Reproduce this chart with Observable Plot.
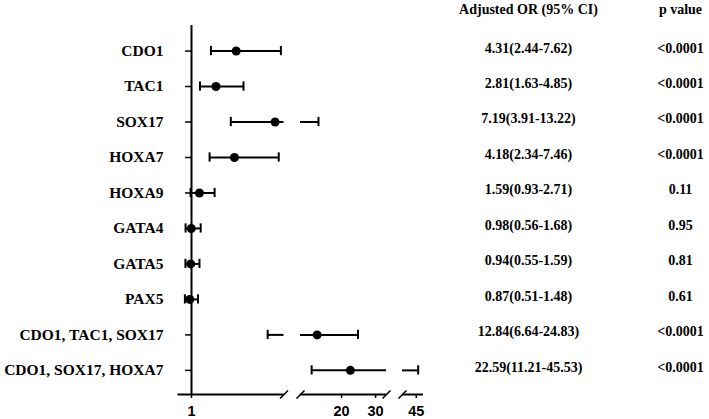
<!DOCTYPE html>
<html>
<head>
<meta charset="utf-8">
<script src="https://cdn.jsdelivr.net/npm/d3@7"></script>
<script src="https://cdn.jsdelivr.net/npm/@observablehq/plot@0.6"></script>
<style>
  html, body { margin: 0; padding: 0; background: #fff; }
  #chart svg { display: block; }
</style>
</head>
<body>
<div id="chart"></div>
<script>
// ---- data ----
const markers = ["CDO1", "TAC1", "SOX17", "HOXA7", "HOXA9", "GATA4", "GATA5", "PAX5", "CDO1, TAC1, SOX17", "CDO1, SOX17, HOXA7"];
const orValues = [4.31, 2.81, 7.19, 4.18, 1.59, 0.98, 0.94, 0.87, 12.84, 22.59];
const ciLower = [2.44, 1.63, 3.91, 2.34, 0.93, 0.56, 0.55, 0.51, 6.64, 11.21];
const ciUpper = [7.62, 4.85, 13.22, 7.46, 2.71, 1.68, 1.59, 1.48, 24.83, 45.53];
const pValues = ["<0.0001", "<0.0001", "<0.0001", "<0.0001", "0.11", "0.95", "0.81", "0.61", "<0.0001", "<0.0001"];
const xTicks = [1, 20, 30, 45];
// broken axis: visible value segments
const axisSegments = [[0, 7.85], [7.94, 33.2], [41.2, 47]];
const headers = ["Adjusted OR (95% CI)", "p value"];

// ---- derived tables ----
const rows = markers.map((m, i) => ({
  i, marker: m, or: orValues[i], lo: ciLower[i], hi: ciUpper[i], p: pValues[i],
  label: `${orValues[i].toFixed(2)}(${ciLower[i].toFixed(2)}-${ciUpper[i].toFixed(2)})`
}));
const ciSegs = [];
for (const r of rows) {
  for (const [a, b] of axisSegments) {
    const s = Math.max(r.lo, a), e = Math.min(r.hi, b);
    if (s < e) ciSegs.push({i: r.i, x1: s, x2: e});
  }
}
const breaks = [];
for (let k = 0; k < axisSegments.length - 1; k++) {
  breaks.push({x: axisSegments[k][1]}, {x: axisSegments[k + 1][0]});
}
const yBottom = 9.68;
const slash = {
  draw(context) { context.moveTo(-4, 4); context.lineTo(4, -4); }
};

const serif = "'Liberation Serif', 'Times New Roman', serif";
const sans = "'Liberation Sans', Arial, sans-serif";

const chart = Plot.plot({
  width: 709,
  height: 419,
  marginTop: 25,
  marginBottom: 25,
  marginLeft: 191,
  marginRight: 0,
  style: {background: "#fff", color: "#000"},
  x: {
    type: "linear",
    domain: [0, 7.85, 7.94, 33.2, 41.2, 47],
    range: [177.5, 283.5, 300, 386, 402, 423]
  },
  y: {domain: [-0.72, yBottom], reverse: true},
  marks: [
    // y axis line at OR = 1
    Plot.ruleX([1], {strokeWidth: 2}),
    Plot.axisY({
      ticks: d3.range(markers.length),
      tickFormat: (i) => markers[i],
      tickSize: 6,
      tickPadding: 22,
      strokeWidth: 1.5,
      fontSize: 15.5,
      fontFamily: serif,
      fontWeight: "bold",
      label: null
    }),
    // broken x axis
    Plot.ruleY(axisSegments, {y: () => yBottom, x1: (d) => d[0], x2: (d) => d[1], strokeWidth: 2}),
    Plot.dot(breaks, {x: "x", y: () => yBottom, symbol: slash, r: 4, stroke: "black", strokeWidth: 1.6, fill: "none"}),
    Plot.axisX({
      ticks: xTicks,
      tickFormat: (d) => String(d),
      tickSize: 4,
      tickPadding: 7,
      strokeWidth: 1.5,
      fontSize: 14.5,
      fontFamily: sans,
      fontWeight: "bold",
      label: null
    }),
    // confidence intervals
    Plot.ruleY(ciSegs, {y: "i", x1: "x1", x2: "x2", strokeWidth: 2}),
    Plot.ruleX(rows, {x: "lo", y1: (d) => d.i - 0.13, y2: (d) => d.i + 0.13, strokeWidth: 2}),
    Plot.ruleX(rows, {x: "hi", y1: (d) => d.i - 0.13, y2: (d) => d.i + 0.13, strokeWidth: 2}),
    Plot.dot(rows, {x: "or", y: "i", r: 4.5, fill: "black"}),
    // right-hand table
    Plot.text(rows, {y: "i", text: "label", frameAnchor: "left", dx: 337, dy: -3, fontSize: 14, fontFamily: serif, fontWeight: "bold", textAnchor: "middle"}),
    Plot.text(rows, {y: "i", text: "p", frameAnchor: "left", dx: 489, dy: -3, fontSize: 14, fontFamily: serif, fontWeight: "bold", textAnchor: "middle"}),
    Plot.text([headers[0]], {text: (d) => d, frameAnchor: "top-left", lineAnchor: "middle", dx: 337, dy: -16, fontSize: 14, fontFamily: serif, fontWeight: "bold", textAnchor: "middle"}),
    Plot.text([headers[1]], {text: (d) => d, frameAnchor: "top-left", lineAnchor: "middle", dx: 489, dy: -16, fontSize: 14, fontFamily: serif, fontWeight: "bold", textAnchor: "middle"})
  ]
});
document.getElementById("chart").appendChild(chart);
</script>
</body>
</html>
